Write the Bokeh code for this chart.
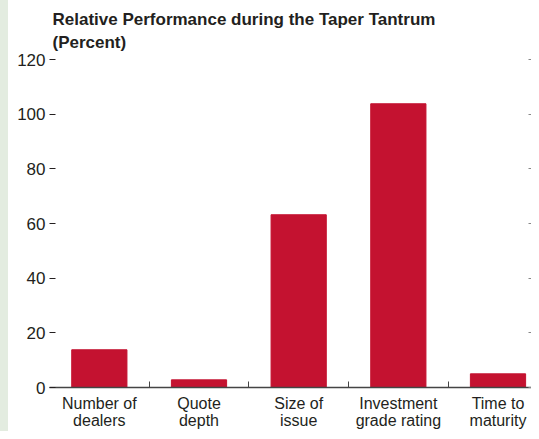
from bokeh.plotting import figure
from bokeh.models import Range1d, FixedTicker, LinearAxis, Title, Div
from bokeh.layouts import row
from bokeh.embed import file_html
from bokeh.resources import INLINE

categories = ["Number of\ndealers", "Quote\ndepth", "Size of\nissue",
              "Investment\ngrade rating", "Time to\nmaturity"]
values = [13.8, 2.8, 63.2, 103.8, 5.0]
y_ticks = [0, 20, 40, 60, 80, 100, 120]
title_text = "Relative Performance during the Taper Tantrum\n(Percent)"

FONT = "Liberation Sans"
TEXT = "#231f20"
BAR = "#c41230"
STRIP = "#e3ece0"

xs = list(range(len(categories)))

p = figure(width=523, height=431, output_backend="svg", toolbar_location=None,
           x_range=Range1d(-0.5, 4.336), y_range=Range1d(0, 120),
           x_axis_type=None, y_axis_type=None,
           min_border_left=41, min_border_right=0, min_border_top=0, min_border_bottom=0)
p.outline_line_color = None
p.xgrid.visible = False
p.ygrid.visible = False

p.vbar(x=xs, top=values, width=0.554, color=BAR)

t = Title(text=title_text, align="left", offset=3, text_font=FONT, text_font_size="17px",
          text_font_style="bold", text_color=TEXT, text_line_height=1.2, standoff=15)
p.add_layout(t, "above")

yax = LinearAxis(ticker=FixedTicker(ticks=y_ticks, minor_ticks=[]))
yax.axis_line_color = None
yax.major_tick_in = 6
yax.major_tick_out = 0
yax.major_tick_line_color = TEXT
yax.major_label_standoff = 4
yax.major_label_text_font = FONT
yax.major_label_text_font_size = "17px"
yax.major_label_text_color = TEXT
p.add_layout(yax, "left")

ryax = LinearAxis(ticker=FixedTicker(ticks=y_ticks, minor_ticks=[]))
ryax.axis_line_color = None
ryax.major_tick_in = 3
ryax.major_tick_out = 0
ryax.major_tick_line_color = "#888888"
ryax.major_label_standoff = 0
ryax.major_label_overrides = {v: "" for v in y_ticks}
p.add_layout(ryax, "right")

xax = LinearAxis(ticker=FixedTicker(ticks=xs, minor_ticks=[0.5, 1.5, 2.5, 3.5]))
xax.major_label_overrides = {i: c for i, c in enumerate(categories)}
xax.axis_line_color = "#444444"
xax.axis_line_width = 1.5
xax.major_tick_line_color = None
xax.minor_tick_in = 6
xax.minor_tick_out = 0
xax.minor_tick_line_color = "#444444"
xax.major_label_standoff = 1
xax.major_label_text_font = FONT
xax.major_label_text_font_size = "16px"
xax.major_label_text_color = TEXT
xax.major_label_text_line_height = 1.0
p.add_layout(xax, "below")

strip = Div(text="", width=8, height=431, margin=0,
            styles={"background-color": STRIP})

layout = row(strip, p, spacing=0)

open("out.html", "w").write(file_html(layout, INLINE))
